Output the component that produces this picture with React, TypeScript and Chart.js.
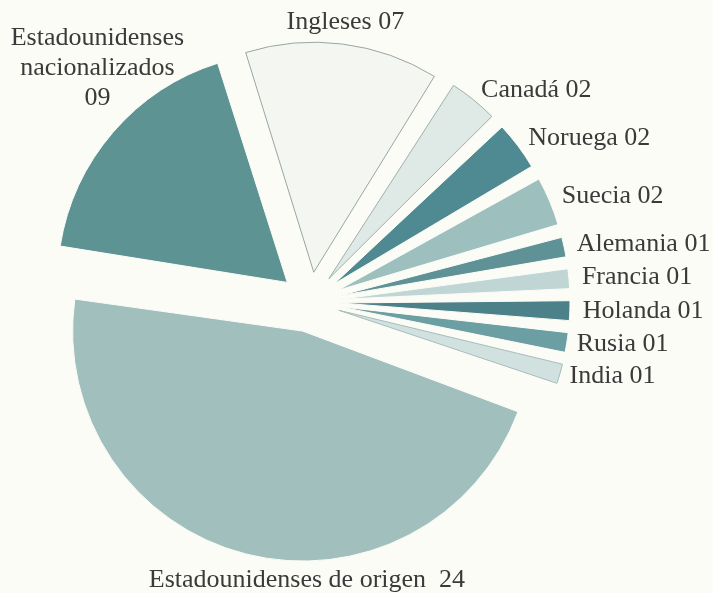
import React, { useEffect, useRef } from "react";
import { Chart, registerables } from "chart.js";

Chart.register(...registerables);

// ---- data ----
const categories = [
  "Ingleses",
  "Canadá",
  "Noruega",
  "Suecia",
  "Alemania",
  "Francia",
  "Holanda",
  "Rusia",
  "India",
  "Estadounidenses de origen",
  "Estadounidenses nacionalizados",
];
const values = [7, 2, 2, 2, 1, 1, 1, 1, 1, 24, 9];

// ---- styles ----
const fillColors = [
  "#f4f7f1",
  "#dfe9e6",
  "#4f8a92",
  "#9dbfbe",
  "#5f9297",
  "#c0d6d5",
  "#4c8189",
  "#6c9fa4",
  "#d0e1df",
  "#a0bfbd",
  "#5e9393",
];
const borderColors = [
  "#9aa6a2",
  "#9fb1ae",
  "#fcfcf7",
  "#fcfcf7",
  "#fcfcf7",
  "#fcfcf7",
  "#fcfcf7",
  "#fcfcf7",
  "#a9bdbb",
  "#fcfcf7",
  "#fcfcf7",
];
const borderWidths = [1, 1, 1, 1, 1, 1, 1, 1, 1, 1, 1];
const sliceOffset = 120; // Chart.js translates arcs by offset / 4
const RADIUS = 230;

// label layout: angle override (deg, null = slice middle), gap beyond radius, alignment, wrap
const labelAngle: (number | null)[] = [null, null, null, null, null, null, null, null, null, 89, 228.4];
const labelGap = [22, 12, 13, 13, 13, 13, 13, 10, 10, 19, 56];
const labelAlign: CanvasTextAlign[] = [
  "center", "left", "left", "left", "left", "left", "left", "left", "left", "center", "center",
];
const labelWrap = [false, false, false, false, false, false, false, false, false, false, true];
const labelSep = [" ", " ", " ", " ", " ", " ", " ", " ", " ", "  ", " "];

const pad2 = (v: number) => String(v).padStart(2, "0");

function labelLines(i: number): string[] {
  if (labelWrap[i]) return [...categories[i].split(" "), pad2(values[i])];
  return [categories[i] + labelSep[i] + pad2(values[i])];
}

const radiusFixPlugin = {
  id: "radiusFix",
  beforeDatasetsDraw(chart: any) {
    const meta = chart.getDatasetMeta(0);
    meta.data.forEach((arc: any) => {
      const t = ((arc.options && arc.options.offset) || 0) / 4;
      const circ = arc.endAngle - arc.startAngle;
      const fix = 1 - Math.sin(Math.min(Math.PI, circ));
      arc.outerRadius = RADIUS - t * fix;
    });
  },
};

const labelPlugin = {
  id: "sliceLabels",
  afterDatasetsDraw(chart: any) {
    const meta = chart.getDatasetMeta(0);
    const ctx: CanvasRenderingContext2D = chart.ctx;
    ctx.save();
    ctx.font = '26px "Liberation Serif", "Times New Roman", serif';
    ctx.fillStyle = "#3a3a3a";
    ctx.textBaseline = "middle";
    meta.data.forEach((arc: any, i: number) => {
      const mid = (arc.startAngle + arc.endAngle) / 2;
      const t = ((arc.options && arc.options.offset) || 0) / 4;
      const ax = arc.x + Math.cos(mid) * t;
      const ay = arc.y + Math.sin(mid) * t;
      const ang = labelAngle[i] == null ? mid : ((labelAngle[i] as number) * Math.PI) / 180;
      const r = RADIUS + labelGap[i];
      const px = ax + Math.cos(ang) * r;
      const py = ay + Math.sin(ang) * r;
      const lines = labelLines(i);
      ctx.textAlign = labelAlign[i];
      const lh = 30;
      lines.forEach((ln, k) => {
        ctx.fillText(ln, px, py + (k - (lines.length - 1) / 2) * lh);
      });
    });
    ctx.restore();
  },
};

const bgPlugin = {
  id: "bg",
  beforeDraw(chart: any) {
    const ctx = chart.ctx;
    ctx.save();
    ctx.fillStyle = "#fcfcf7";
    ctx.fillRect(0, 0, chart.width, chart.height);
    ctx.restore();
  },
};

export default function App() {
  const ref = useRef<HTMLCanvasElement | null>(null);
  useEffect(() => {
    if (!ref.current) return;
    const chart = new Chart(ref.current, {
      type: "pie",
      data: {
        labels: categories,
        datasets: [
          {
            data: values,
            backgroundColor: fillColors,
            borderColor: borderColors,
            borderWidth: borderWidths,
            offset: values.map(() => sliceOffset),
          },
        ],
      },
      options: {
        animation: false,
        responsive: false,
        maintainAspectRatio: false,
        events: [],
        rotation: -17.5,
        radius: RADIUS,
        layout: { padding: { left: 0, right: 93, top: 11, bottom: 0 } },
        plugins: {
          legend: { display: false },
          tooltip: { enabled: false },
        },
      } as any,
      plugins: [bgPlugin, radiusFixPlugin, labelPlugin],
    });
    return () => chart.destroy();
  }, []);
  return (
    <div style={{ position: "fixed", left: 0, top: 0, width: 713, height: 593, background: "#fcfcf7" }}>
      <canvas ref={ref} width={713} height={593} style={{ display: "block" }} />
    </div>
  );
}
